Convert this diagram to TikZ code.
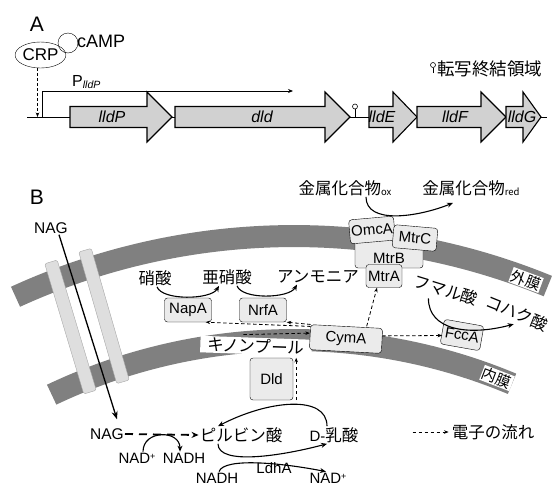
\documentclass[tikz,border=0pt]{standalone}
\usepackage{fontspec}
\setmainfont{Liberation Sans}
\newfontfamily\jp{Noto Sans CJK JP}
\usetikzlibrary{arrows.meta,shapes.geometric,calc}

\newcommand{\lat}{\normalfont\fontsize{15}{17}\selectfont}
\newcommand{\jpf}{\jp\fontsize{16.5}{18}\selectfont}

\tikzset{
  gene/.style={draw=black, fill=black!18, line width=1.1pt, line join=miter},
  genelabel/.style={font=\fontsize{16}{18}\selectfont\itshape, inner sep=0pt},
  membrane/.style={draw=black!50, line width=22pt},
  porin/.style={draw=black!35, fill=black!13, rounded corners=1.5pt, inner sep=0pt, minimum height=13pt},
  prot/.style={draw, fill=black!8, rounded corners=3pt, inner sep=0pt, font=\lat},
  memlabel/.style={fill=white, inner sep=1pt, font=\jp\fontsize{15}{16}\selectfont},
  mol/.style={inner sep=1pt, font=\lat},
  jmol/.style={inner sep=1pt, font=\jpf},
  rxn/.style={line width=1.1pt, -{Stealth[length=6pt,width=5pt]}},
  eflow/.style={line width=0.8pt, dash pattern=on 3.5pt off 2.5pt, -{Stealth[length=4.5pt,width=3.5pt]}},
}

\begin{document}
\begin{tikzpicture}[x=1pt,y=1pt]
\useasboundingbox (0,0) rectangle (556,-485);

% A: operon
\node[font=\fontsize{21}{21}\selectfont, inner sep=0pt] (labA) at (37,-24) {A};
\coordinate (bl) at (27,-117);
\coordinate (br) at (547,-117);
\draw[line width=1pt] (bl) -- (br);
\foreach \xa/\xb/\xc/\lx/\gname in {70/147/172/112/lldP, 175/325/350/262/dld, 369/393/417/382/lldE, 417/481/506/455/lldF, 506/523/541/522/lldG}{
  \draw[gene] (\xa,-106.5) -- (\xb,-106.5) -- (\xb,-92) -- (\xc,-117) -- (\xb,-142) -- (\xb,-127.5) -- (\xa,-127.5) -- cycle;
  \node[genelabel] (g\gname) at (\lx,-117) {\gname};
}
% terminators
\draw[line width=0.8pt] (355,-117) -- (355,-109);
\draw[line width=0.6pt, fill=white] (355,-106.5) circle (2.5);
\draw[line width=0.6pt] (433,-73) -- (433,-67.5);
\draw[line width=0.6pt] (433,-65) circle (2.5);
\node[inner sep=1pt, anchor=west, font=\jp\fontsize{17.5}{18}\selectfont] (tlegend) at (436,-69) {転写終結領域};

% promoter
\coordinate (prom) at (42,-117);
\coordinate (promend) at (293,-91);
\draw[line width=0.8pt, -{Stealth[length=5pt,width=4pt]}] (prom) |- (promend);
\node[inner sep=0pt, anchor=base west, font=\fontsize{16}{18}\selectfont] (plld) at (72,-86) {P\raisebox{-2.5pt}{\fontsize{10.5}{11}\selectfont\itshape lldP}};

% CRP-cAMP
\node[draw, ellipse, minimum width=45pt, minimum height=26pt, inner sep=0pt, font=\fontsize{17}{18}\selectfont] (crp) at (40.5,-55) {CRP};
\node[draw, circle, minimum size=20pt, inner sep=0pt] (camp) at (68,-43) {};
\node[inner sep=1pt, anchor=west, font=\fontsize{18}{18}\selectfont] (campt) at (76,-41) {cAMP};
\coordinate (crpfoot) at (37.5,-117);
\draw[line width=0.7pt, dash pattern=on 3pt off 2pt, -{Stealth[length=4.5pt,width=3.5pt]}] (crp.south -| crpfoot) -- (crpfoot);

% B: cell
\node[font=\fontsize{21}{21}\selectfont, inner sep=0pt] (labB) at (37,-197) {B};
\draw[membrane] (294,-905) ++(114.6:669) arc[start angle=114.6, end angle=67.7, radius=669];
\draw[membrane] (294,-905) ++(115.4:565) arc[start angle=115.4, end angle=67.3, radius=565];
\node[memlabel, rotate=-20.4] (omlab) at (526,-280) {外膜};
\node[memlabel, rotate=-21] (imlab) at (497,-378) {内膜};
\node[porin, minimum width=136pt, rotate=-73.3] (por1) at (70.5,-327) {};
\node[porin, minimum width=137pt, rotate=-73.9] (por2) at (104,-316) {};

% NAG uptake
\node[mol, font=\normalfont\fontsize{15.5}{17}\selectfont] (nagtop) at (51,-228) {NAG};
\node[mol, font=\normalfont\fontsize{15.5}{17}\selectfont] (nagbot) at (107,-434) {NAG};
\draw[line width=1.3pt, -{Stealth[length=8pt,width=6pt]}] ([xshift=8pt]nagtop.south) -- ([xshift=10pt,yshift=8pt]nagbot.north);

% quinone pool and proteins
\node[jmol, fill=white, inner xsep=7pt, inner ysep=1pt, rotate=-2] (qpool) at (256,-346) {キノンプール};
\node[prot, minimum width=47pt, minimum height=24pt] (napA) at (188,-310) {NapA};
\node[prot, minimum width=47pt, minimum height=24pt] (nrfA) at (263,-310) {NrfA};
\node[prot, minimum width=72pt, minimum height=25pt, rotate=-3] (cymA) at (346,-339) {CymA};
\node[prot, minimum width=43pt, minimum height=42pt] (dld) at (271.5,-379) {Dld};
\node[prot, minimum width=68pt, minimum height=30pt, text height=21pt, text depth=0pt] (mtrB) at (389,-253) {MtrB};
\node[prot, minimum width=45pt, minimum height=24pt, rotate=5] (omcA) at (372,-230) {OmcA};
\node[prot, minimum width=44pt, minimum height=23pt, rotate=-5] (mtrC) at (415,-238) {MtrC};
\node[prot, minimum width=36pt, minimum height=23pt] (mtrA) at (384,-276) {MtrA};
\node[prot, minimum width=40pt, minimum height=25pt, rotate=-10] (fccA) at (462,-335) {FccA};

% acceptors
\node[jmol] (no3) at (155,-278) {硝酸};
\node[jmol] (no2) at (227,-277) {亜硝酸};
\node[jmol] (nh4) at (318,-277) {アンモニア};
\node[jmol] (metox) at (345,-188) {金属化合物\raisebox{-1.5pt}{\fontsize{9.5}{10}\selectfont ox}};
\node[jmol] (metred) at (471,-188) {金属化合物\raisebox{-1.5pt}{\fontsize{9.5}{10}\selectfont red}};
\node[jmol, rotate=-17] (fum) at (446,-290) {フマル酸};
\node[jmol, rotate=-22] (suc) at (517,-313) {コハク酸};
\draw[rxn] ([xshift=2pt]no3.south) .. controls +(5,-14) and +(-8,-14) .. ([xshift=-8pt]no2.south);
\draw[rxn] ([xshift=10pt]no2.south) .. controls +(5,-14) and +(-8,-14) .. ([xshift=-21pt]nh4.south);
\draw[rxn] ([xshift=21pt]metox.south) .. controls +(0,-28) and +(-35,-14) .. ([xshift=-18pt,yshift=-6pt]metred.south);
\draw[rxn] ([xshift=-15pt]fum.south) .. controls +(0,-32) and +(-45,-12) .. ([yshift=-3pt]suc.south);

% electron flow
\draw[eflow] ([xshift=-13pt,yshift=3pt]qpool.north) -- ([yshift=4pt]cymA.west);
\draw[eflow] ([yshift=-2pt]cymA.north west) -- ([xshift=-6pt]napA.south east);
\draw[eflow] (cymA.north west) -- (nrfA.south east);
\draw[eflow] ([xshift=3pt]dld.south east) -- ([xshift=3pt]dld.north east);
\draw[eflow] ([xshift=20pt]cymA.north) -- ([xshift=-7pt]mtrA.south);
\draw[eflow] ([yshift=5pt]cymA.east) -- ([yshift=-4pt]fccA.west);

% metabolism
\node[jmol] (pyr) at (241,-435) {ピルビン酸};
\node[jmol] (lac) at (334,-435) {{\lat D-}乳酸};
\node[mol] (nadp1) at (137,-458) {NAD\raisebox{4pt}{\fontsize{9}{9}\selectfont +}};
\node[mol] (nadh1) at (184,-458) {NADH};
\node[mol] (ldha) at (274,-468) {LdhA};
\node[mol] (nadh2) at (217,-478) {NADH};
\node[mol] (nadp2) at (328,-478) {NAD\raisebox{4pt}{\fontsize{9}{9}\selectfont +}};
\draw[line width=1.8pt, dash pattern=on 8pt off 6pt, -{Stealth[length=7pt,width=6pt]}] (nagbot.east) -- (pyr.west);
\draw[rxn] ([xshift=6pt]nadp1.north) .. controls +(0,22) and +(0,22) .. ([xshift=-4pt]nadh1.north);
\draw[rxn] ([xshift=-7pt]lac.north) .. controls +(0,32) and +(50,26) .. ([xshift=-23pt]pyr.north);
\draw[rxn] ([xshift=-23pt]pyr.south) .. controls +(0,-22) and +(-45,-12) .. ([xshift=-7pt]lac.south);
\draw[rxn] ([xshift=2pt]nadh2.north) .. controls +(5,15) and +(-40,8) .. ([xshift=-2pt]nadp2.north);

% legend
\node[jmol] (legtxt) at (493,-432) {電子の流れ};
\draw[eflow] ([xshift=-38pt]legtxt.west) -- ([xshift=-2pt]legtxt.west);
\end{tikzpicture}
\end{document}
